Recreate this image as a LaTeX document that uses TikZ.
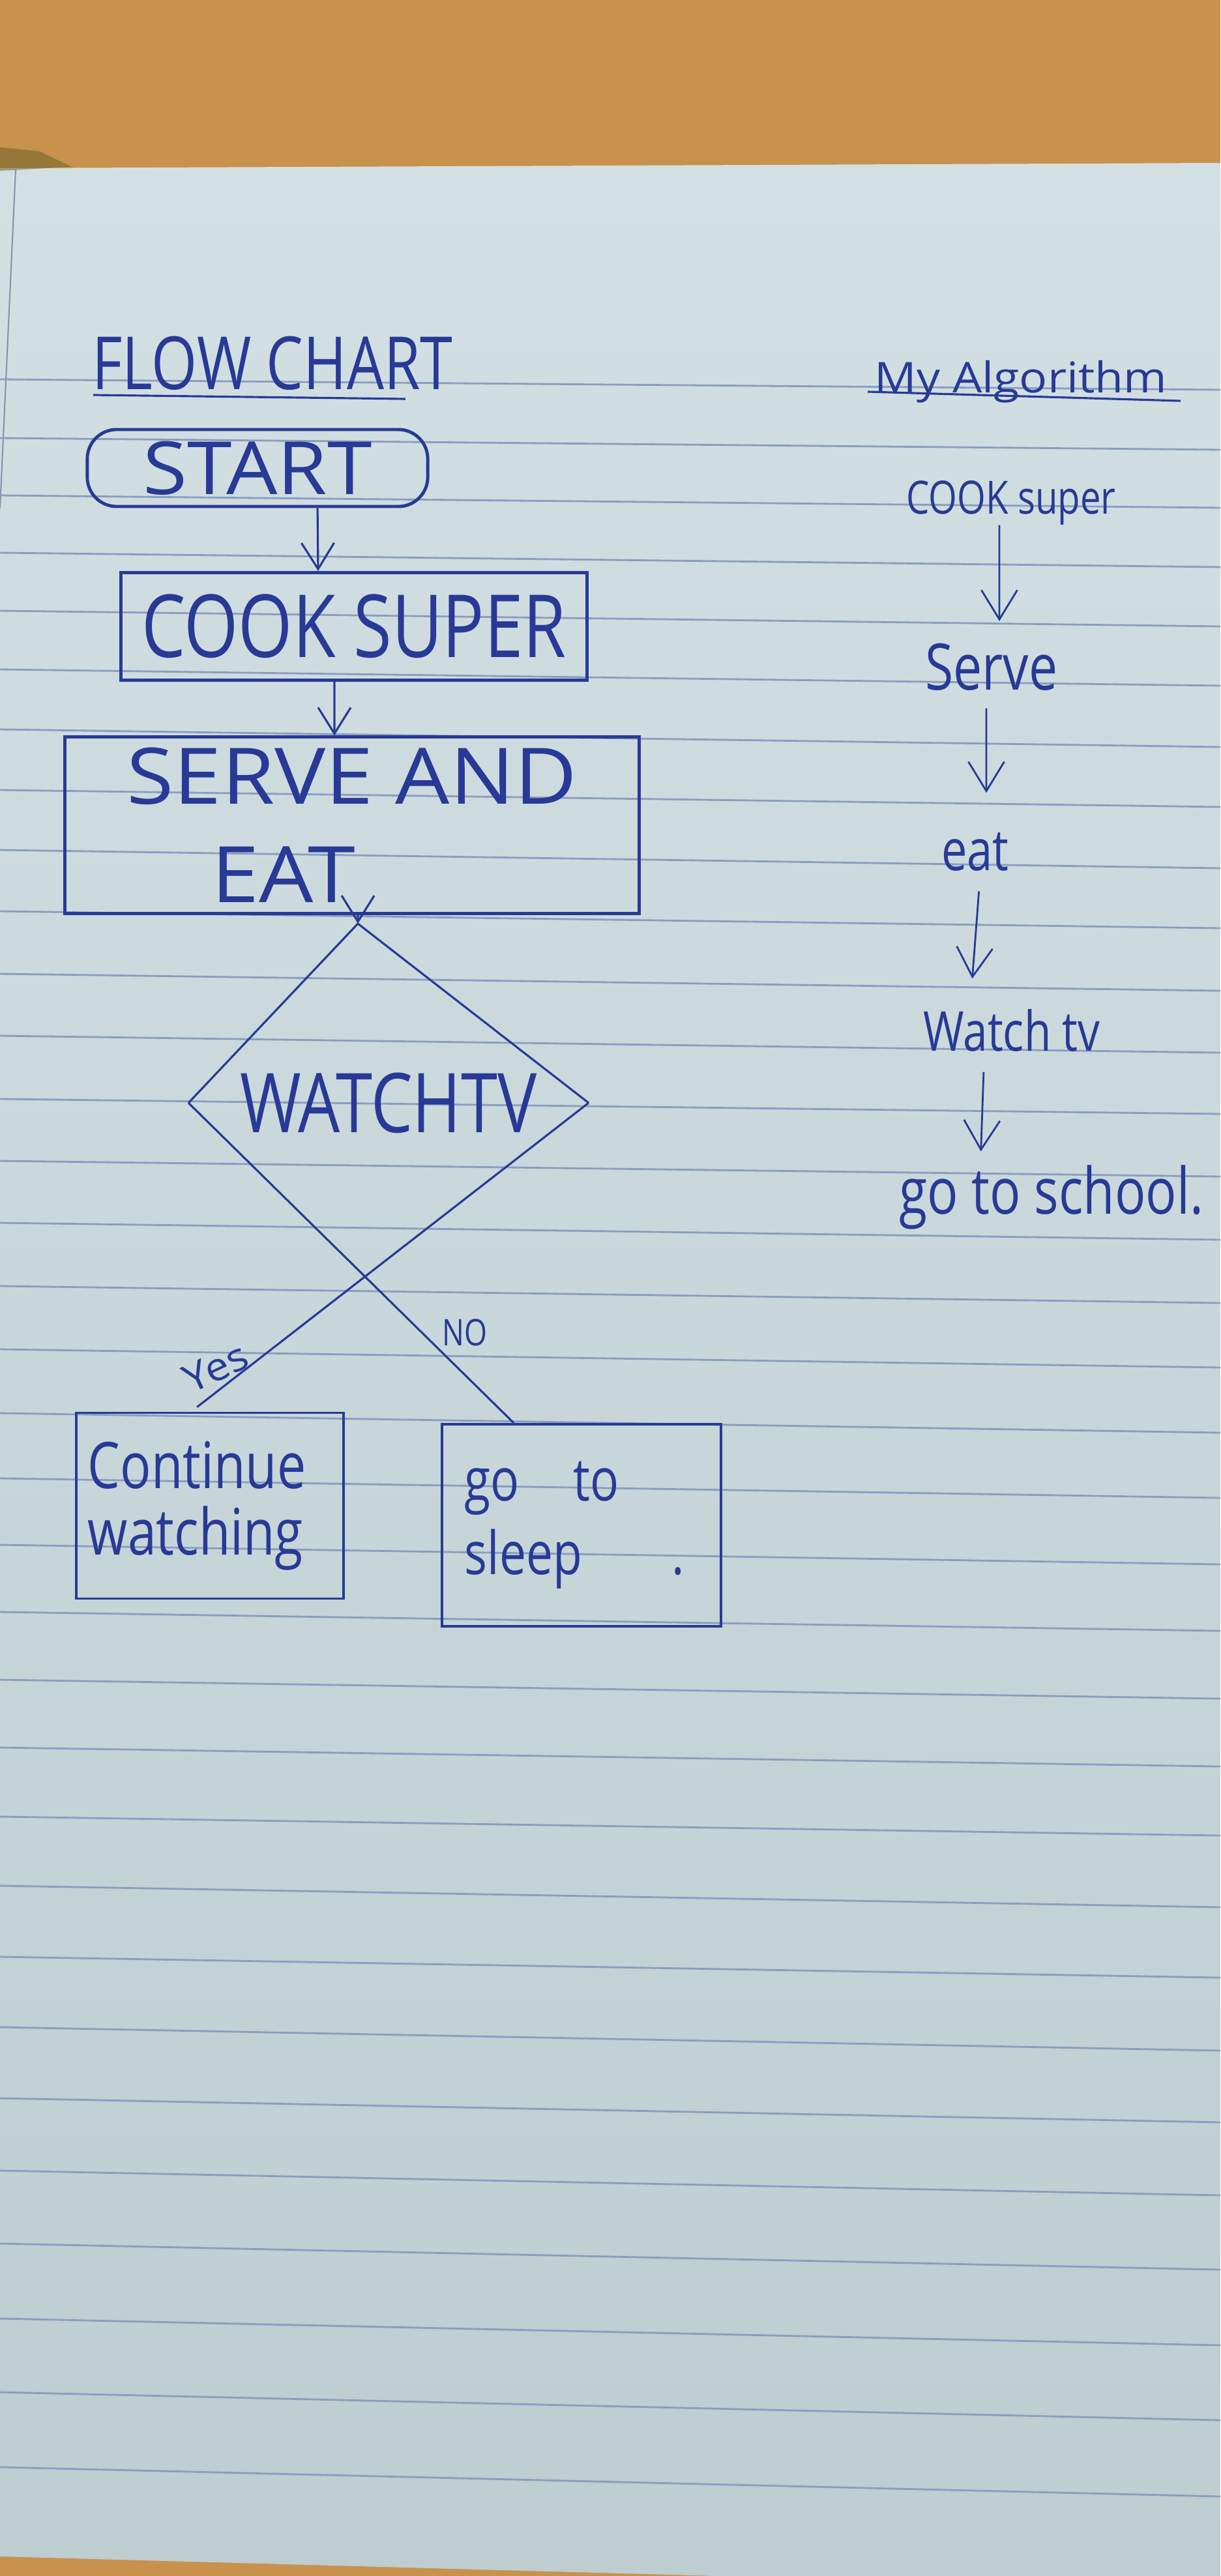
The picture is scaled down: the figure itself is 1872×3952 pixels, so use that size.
\documentclass[tikz,border=0pt]{standalone}
\usepackage{fontspec}
\usetikzlibrary{arrows.meta,shapes.geometric}
\newfontfamily\handfont[FakeStretch=0.8]{Open Sans}
\newfontfamily\handwide[FakeStretch=1.1]{Open Sans}
\newcommand{\inkfont}[2]{\handfont\fontsize{#1}{#2}\selectfont}
\newcommand{\widefont}[2]{\handwide\fontsize{#1}{#2}\selectfont}
\definecolor{ink}{HTML}{283A96}
\definecolor{ruling}{HTML}{8A9CC0}
\definecolor{wood}{HTML}{C8914C}
\definecolor{paperhi}{HTML}{D3E0E3}
\definecolor{paperlo}{HTML}{BDCDD0}
\begin{document}
\begin{tikzpicture}[x=0.01cm, y=-0.01cm,
	procbox/.style={draw=ink, line width=1.4pt, text=ink, inner sep=0pt},
	outbox/.style={draw=ink, line width=1pt, text=ink, align=left},
	flowarrow/.style={draw=ink, line width=0.9pt, -{Straight Barb[length=0.4cm,width=0.5cm]}},
	algarrow/.style={draw=ink, line width=0.8pt, -{Straight Barb[length=0.45cm,width=0.55cm]}},
	decline/.style={draw=ink, line width=0.9pt},
	algtext/.style={text=ink, inner sep=0pt, anchor=base}]
		\useasboundingbox (0,0) rectangle (1872,3952);

		% desk and sheet
		\fill[wood] (0,0) rectangle (1872,3952);
		\shade[top color=paperhi, bottom color=paperlo] (0,258) -- (1872,250) -- (1872,3952) -- (1100,3952) -- (0,3922) -- cycle;
		\fill[olive!60!black, opacity=0.5] (0,226) -- (60,232) -- (110,256) -- (0,262) -- cycle;
		\draw[ruling!70!gray, line width=0.6pt] (24,260) -- (0,780);
		\foreach \yl/\yr in {582/598, 672/690, 760/779, 848/870, 937/961, 1027/1052, 1119/1146, 1212/1238,
			1304/1332, 1398/1424, 1494/1520, 1589/1615, 1686/1709, 1781/1805, 1876/1902, 1973/1999,
			2070/2098, 2168/2198, 2268/2298, 2370/2400, 2473/2502, 2577/2606, 2681/2710, 2787/2816,
			2893/2926, 3002/3034, 3110/3146, 3219/3256, 3330/3368, 3442/3482, 3557/3598, 3670/3713, 3785/3830}
			\draw[ruling, line width=0.8pt] (0,\yl) -- (1872,\yr);

		% flow chart
		\node[text=ink, inner sep=0pt, anchor=base, font=\inkfont{32}{36}] (flowtitle) at (418,598) {FLOW CHART};
		\draw[ink, line width=0.9pt] ([xshift=0.02cm,yshift=-0.08cm]flowtitle.base west) -- ++(479,6);

		\node[procbox, rounded corners=0.45cm, minimum width=5.22cm, minimum height=1.18cm, font=\widefont{32}{36}] (start) at (395,718) {START};
		\node[procbox, minimum width=7.15cm, minimum height=1.65cm, font=\inkfont{38}{44}] (cook) at (543,961) {COOK SUPER};
		\node[procbox, minimum width=8.8cm, minimum height=2.7cm, align=left, font=\widefont{34}{43}] (serve) at (540,1266) {SERVE AND\\\hspace*{1.3cm}EAT};
		\node[diamond, minimum width=6.12cm, minimum height=4.08cm, inner sep=0pt, text=ink, font=\inkfont{36}{40}] (tv) at (596,1692) {WATCHTV};
		\node[outbox, text width=3.74cm, inner xsep=0.18cm, minimum height=2.85cm, font=\inkfont{28}{29}] (cont) at (322,2310) {Continue\\watching};
		\node[outbox, text width=3.58cm, inner xsep=0.35cm, minimum height=3.1cm, font=\inkfont{26}{32}] (sleep) at (892,2340) {go\hspace{0.9em}to\\sleep\hspace{1.5em}.};

		\draw[flowarrow] ([xshift=0.92cm]start.south) -- ([xshift=-0.55cm]cook.north);
		\draw[flowarrow] ([xshift=-0.3cm]cook.south) -- ([xshift=-0.27cm]serve.north);
		\draw[flowarrow] ([xshift=0.09cm]serve.south) -- ([xshift=-0.47cm]tv.north);

		\draw[decline] (tv.west) -- ([xshift=-0.47cm]tv.north) -- (tv.east);
		\draw[decline] (tv.west) -- ([xshift=1.12cm]sleep.north west)
			node[pos=0.77, anchor=south west, inner sep=1pt, text=ink, font=\inkfont{16}{18}] {NO};
		\draw[decline] (tv.east) -- ([xshift=1.87cm,yshift=0.07cm]cont.north west)
			node[pos=0.93, anchor=south, rotate=25, inner sep=0.08cm, text=ink, font=\widefont{17}{18}] {Yes};

		% algorithm
		\node[algtext, font=\widefont{18.5}{22}] (algtitle) at (1566,603) {My Algorithm};
		\draw[ink, line width=0.9pt] ([xshift=-0.1cm,yshift=0.02cm]algtitle.base west) -- ([xshift=0.2cm,yshift=-0.12cm]algtitle.base east);

		\node[algtext, font=\inkfont{20}{24}] (acook) at (1551,788) {COOK super};
		\node[algtext, font=\inkfont{28}{32}] (aserve) at (1521,1058) {Serve};
		\node[algtext, font=\inkfont{25}{30}] (aeat) at (1496,1335) {eat};
		\node[algtext, font=\inkfont{24}{28}] (awatch) at (1552,1612) {Watch tv};
		\node[algtext, font=\inkfont{28}{30}] (aschool) at (1613,1862) {go to school.};

		\draw[algarrow, shorten >=0.33cm] ([xshift=-0.18cm]acook.south) -- ([xshift=0.12cm]aserve.north);
		\draw[algarrow, shorten <=0.27cm, shorten >=0.6cm] ([xshift=-0.08cm]aserve.south) -- ([xshift=0.17cm]aeat.north);
		\draw[algarrow, shorten <=0.31cm, shorten >=0.46cm] ([xshift=0.08cm]aeat.south) -- ([xshift=-0.64cm]awatch.north);
		\draw[algarrow, shorten <=0.31cm, shorten >=0.2cm] ([xshift=-0.42cm]awatch.south) -- ([xshift=-1.09cm]aschool.north);
	\end{tikzpicture}
\end{document}
